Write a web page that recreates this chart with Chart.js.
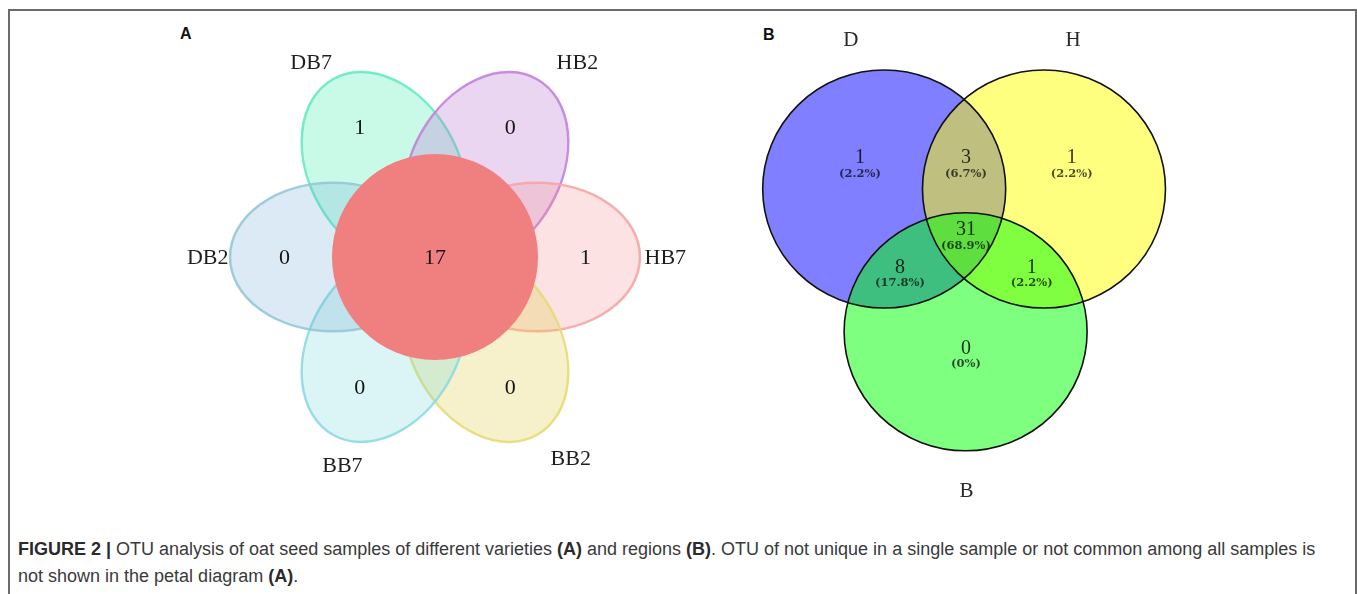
<!DOCTYPE html>
<html lang="en">
<head>
<meta charset="UTF-8">
<title>OTU petal and Venn diagrams</title>
<script src="https://cdn.jsdelivr.net/npm/chart.js"></script>
<style>
  body { margin: 0; background: #fff; width: 1357px; height: 594px; overflow: hidden; position: relative;
         font-family: "Liberation Sans", Arial, sans-serif; }
  .frame { position: absolute; left: 8px; top: 9px; width: 1345px; height: 600px; border: 2px solid #6a6a6a; border-bottom: none; }
  .panel { position: absolute; }
  .tag { position: absolute; font-weight: bold; font-size: 16px; line-height: 18px; color: #111; }
  .caption { position: absolute; left: 18px; top: 536px; font-size: 18px; line-height: 27px; color: #3a3a3a; white-space: nowrap; }
  .caption b { color: #2a2a2a; }
</style>
</head>
<body>
<div class="frame"></div>
<div class="tag" style="left:180px; top:25px;">A</div>
<div class="tag" style="left:763px; top:26px;">B</div>
<div class="panel" style="left:150px; top:20px;"><canvas id="petalChart" width="570" height="474"></canvas></div>
<div class="panel" style="left:745px; top:20px;"><canvas id="vennChart" width="440" height="480"></canvas></div>
<div class="caption"><b>FIGURE 2 |</b> OTU analysis of oat seed samples of different varieties <b>(A)</b> and regions <b>(B)</b>. OTU of not unique in a single sample or not common among all samples is<br>not shown in the petal diagram <b>(A)</b>.</div>

<script>
// panel A: petal diagram
const petalNames = ['DB7', 'HB2', 'HB7', 'BB2', 'BB7', 'DB2'];
const petalCounts = [1, 0, 1, 0, 0, 0];
const coreCount = 17;

// panel B: Venn diagram
const setNames = ['D', 'H', 'B'];
const regionNames = ['D', 'D&H', 'H', 'D&H&B', 'D&B', 'H&B', 'B'];
const regionCounts = [1, 3, 1, 31, 8, 1, 0];
const regionPercents = ['2.2%', '6.7%', '2.2%', '68.9%', '17.8%', '2.2%', '0%'];

// layout of the petal diagram (units: core circle radius = 1)
const petalAngles = [120, 60, 0, 300, 240, 180];
const nameAngles = [122.4, 53.9, 0, 304, 246, 180];
const nameRadii = [2.245, 2.346, 2.236, 2.357, 2.21, 2.207];
const PETAL_OFFSET = 0.99, PETAL_A = 1.0, PETAL_B = 0.72, COUNT_R = 1.46;
const petalFill = ['rgba(100,240,190,0.35)', 'rgba(190,120,210,0.3)', 'rgba(245,140,140,0.25)',
                   'rgba(225,210,80,0.3)', 'rgba(110,215,220,0.25)', 'rgba(110,170,210,0.25)'];
const petalLine = ['rgba(100,235,195,0.9)', 'rgba(195,130,220,0.9)', 'rgba(245,165,165,0.9)',
                   'rgba(230,220,120,0.9)', 'rgba(140,220,225,0.9)', 'rgba(150,200,215,0.9)'];

// layout of the Venn diagram (units: circle radius = 1)
const setCenters = [[-0.665, 0], [0.65, 0], [0.005, -1.2]];
const setLabelPos = [[-0.94, 1.256], [0.89, 1.256], [0.012, -2.53]];
const regionPos = [[-0.864, 0.26], [0.008, 0.26], [0.878, 0.26], [0.008, -0.345],
                   [-0.535, -0.658], [0.549, -0.658], [0.008, -1.339]];
const setFill = ['rgba(0,0,255,0.5)', 'rgba(255,255,0,0.5)', 'rgba(0,255,0,0.5)'];

const rad = d => d * Math.PI / 180;
const serif = '"Liberation Serif", "Times New Roman", serif';

function baseOptions(xr, yr) {
    return {
        responsive: false,
        animation: false,
        events: [],
        layout: { padding: 0 },
        plugins: { legend: { display: false }, tooltip: { enabled: false } },
        scales: {
            x: { type: 'linear', display: false, min: xr[0], max: xr[1] },
            y: { type: 'linear', display: false, min: yr[0], max: yr[1] }
        }
    };
}

const petalPlugin = {
    id: 'petals',
    beforeDatasetsDraw(chart) {
        const { ctx, scales: { x, y } } = chart;
        const ux = x.getPixelForValue(1) - x.getPixelForValue(0);
        const uy = y.getPixelForValue(0) - y.getPixelForValue(1);
        ctx.save();
        petalNames.forEach((n, i) => {
            const t = rad(petalAngles[i]);
            const cx = x.getPixelForValue(PETAL_OFFSET * Math.cos(t));
            const cy = y.getPixelForValue(PETAL_OFFSET * Math.sin(t));
            ctx.beginPath();
            ctx.ellipse(cx, cy, PETAL_A * ux, PETAL_B * uy, -t, 0, Math.PI * 2);
            ctx.fillStyle = petalFill[i];
            ctx.fill();
            ctx.lineWidth = 2.5;
            ctx.strokeStyle = petalLine[i];
            ctx.stroke();
        });
        // core circle
        ctx.beginPath();
        ctx.ellipse(x.getPixelForValue(0), y.getPixelForValue(0), ux, uy, 0, 0, Math.PI * 2);
        ctx.fillStyle = 'rgb(240,128,127)';
        ctx.fill();
        ctx.restore();
    },
    afterDatasetsDraw(chart) {
        const { ctx } = chart;
        ctx.save();
        ctx.font = '22px ' + serif;
        ctx.fillStyle = '#151515';
        ctx.textAlign = 'center';
        ctx.textBaseline = 'middle';
        const counts = chart.getDatasetMeta(0).data;
        counts.forEach((pt, i) => {
            const txt = i < petalCounts.length ? String(petalCounts[i]) : String(coreCount);
            ctx.fillText(txt, pt.x, pt.y + 1);
        });
        ctx.fillStyle = '#1e1e1e';
        chart.getDatasetMeta(1).data.forEach((pt, i) => {
            ctx.fillText(petalNames[i], pt.x, pt.y + 1);
        });
        ctx.restore();
    }
};

const countPoints = petalAngles.map(a => ({ x: COUNT_R * Math.cos(rad(a)), y: COUNT_R * Math.sin(rad(a)) }));
countPoints.push({ x: 0, y: 0 });
const namePoints = nameAngles.map((a, i) => ({ x: nameRadii[i] * Math.cos(rad(a)), y: nameRadii[i] * Math.sin(rad(a)) }));

const PETAL_UNIT = 103;
new Chart(document.getElementById('petalChart'), {
    type: 'scatter',
    data: {
        datasets: [
            { label: 'counts', data: countPoints, pointRadius: 0 },
            { label: 'names', data: namePoints, pointRadius: 0 }
        ]
    },
    options: baseOptions([-285 / PETAL_UNIT, 285 / PETAL_UNIT], [-237 / PETAL_UNIT, 237 / PETAL_UNIT]),
    plugins: [petalPlugin]
});

const vennPlugin = {
    id: 'venn',
    beforeDatasetsDraw(chart) {
        const { ctx, scales: { x, y } } = chart;
        const ux = x.getPixelForValue(1) - x.getPixelForValue(0);
        const uy = y.getPixelForValue(0) - y.getPixelForValue(1);
        ctx.save();
        const paths = setCenters.map(c => {
            const p = new Path2D();
            p.ellipse(x.getPixelForValue(c[0]), y.getPixelForValue(c[1]), ux, uy, 0, 0, Math.PI * 2);
            return p;
        });
        paths.forEach((p, i) => { ctx.fillStyle = setFill[i]; ctx.fill(p); });
        ctx.lineWidth = 1.6;
        ctx.strokeStyle = '#111';
        paths.forEach(p => ctx.stroke(p));
        ctx.restore();
    },
    afterDatasetsDraw(chart) {
        const { ctx } = chart;
        ctx.save();
        ctx.textAlign = 'center';
        ctx.textBaseline = 'middle';
        chart.getDatasetMeta(0).data.forEach((pt, i) => {
            ctx.font = '20px ' + serif;
            ctx.fillStyle = 'rgba(0,0,0,0.8)';
            ctx.fillText(String(regionCounts[i]), pt.x, pt.y);
            ctx.font = 'bold 11.5px "DejaVu Serif", serif';
            ctx.fillStyle = 'rgba(0,0,0,0.7)';
            ctx.fillText('(' + regionPercents[i] + ')', pt.x, pt.y + 15.5);
        });
        ctx.font = '21px ' + serif;
        ctx.fillStyle = '#2a2a2a';
        chart.getDatasetMeta(1).data.forEach((pt, i) => {
            ctx.fillText(setNames[i], pt.x, pt.y + 1);
        });
        ctx.restore();
    }
};

const VX = 121.5, VY = 119;
new Chart(document.getElementById('vennChart'), {
    type: 'scatter',
    data: {
        datasets: [
            { label: 'regions', data: regionPos.map(p => ({ x: p[0], y: p[1] })), pointRadius: 0 },
            { label: 'sets', data: setLabelPos.map(p => ({ x: p[0], y: p[1] })), pointRadius: 0 }
        ]
    },
    options: baseOptions([-220 / VX, 220 / VX], [-311 / VY, 169 / VY]),
    plugins: [vennPlugin]
});
</script>
</body>
</html>
